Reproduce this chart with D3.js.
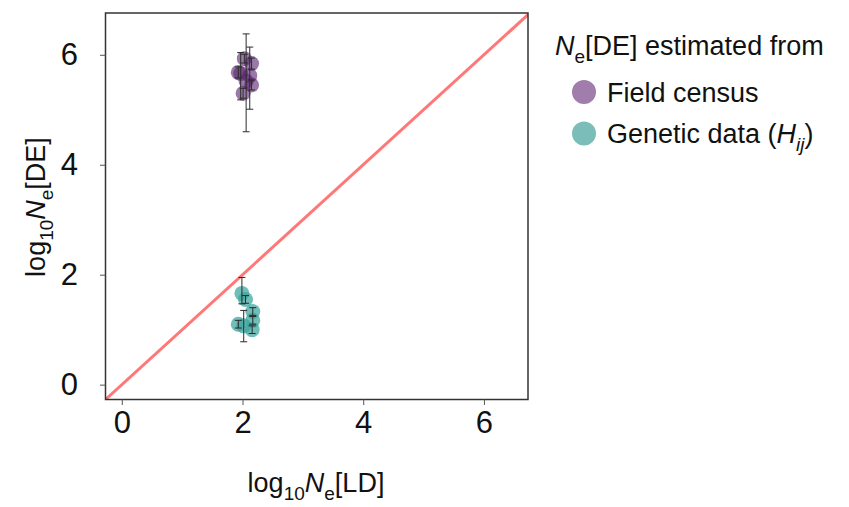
<!DOCTYPE html>
<html>
<head>
<meta charset="utf-8">
<script src="https://cdn.jsdelivr.net/npm/d3@7"></script>
<style>
  html, body { margin: 0; padding: 0; background: #fff; }
  svg { display: block; font-family: "Liberation Sans", Arial, sans-serif; }
</style>
</head>
<body>
<svg id="chart" width="849" height="507"></svg>
<script>
// Ne estimates on a log10 scale: linkage-disequilibrium (LD) vs demographic (DE)
const fieldLD = [1.93, 2.03, 2.06, 2.15, 2.12, 2.15, 2.01, 1.97];
const fieldDE = [5.68, 5.93, 5.52, 5.84, 5.62, 5.45, 5.30, 5.66];
const fieldLo = [5.58, 5.85, 4.60, 5.74, 5.01, 5.36, 5.21, 5.18];
const fieldHi = [5.78, 6.01, 6.38, 5.94, 6.14, 5.54, 5.39, 6.04];

const geneticLD = [1.99, 2.05, 2.17, 2.17, 1.93, 2.02, 2.16];
const geneticDE = [1.66, 1.55, 1.33, 1.17, 1.10, 1.07, 1.00];
const geneticLo = [1.47, 1.48, 1.26, 1.10, 1.03, 0.78, 0.93];
const geneticHi = [1.95, 1.62, 1.40, 1.24, 1.17, 1.35, 1.07];

const tickValues = [0, 2, 4, 6];
const xDomain = [-0.27, 6.73];
const yDomain = [-0.27, 6.76];

const svg = d3.select("#chart");
const plot = { left: 105.5, right: 528, top: 13, bottom: 399.5 };

const x = d3.scaleLinear().domain(xDomain).range([plot.left, plot.right]);
const y = d3.scaleLinear().domain(yDomain).range([plot.bottom, plot.top]);

svg.append("defs").append("clipPath").attr("id", "plotClip")
  .append("rect")
  .attr("x", plot.left).attr("y", plot.top)
  .attr("width", plot.right - plot.left).attr("height", plot.bottom - plot.top);

// 1:1 reference line
const g = svg.append("g").attr("clip-path", "url(#plotClip)");
g.append("line")
  .attr("x1", x(-1)).attr("y1", y(-1))
  .attr("x2", x(8)).attr("y2", y(8))
  .attr("stroke", "#ff7878").attr("stroke-width", 3);

function series(ld, de, lo, hi, fill, opacity) {
  const rows = ld.map((v, i) => ({ x: v, y: de[i], lo: lo[i], hi: hi[i] }));
  const grp = g.append("g");
  grp.selectAll("circle").data(rows).join("circle")
    .attr("cx", d => x(d.x)).attr("cy", d => y(d.y)).attr("r", 7.5)
    .attr("fill", fill).attr("fill-opacity", opacity);
  const eb = grp.selectAll("g.eb").data(rows).join("g").attr("class", "eb")
    .attr("stroke", "#2b2b2b").attr("stroke-width", 1).attr("fill", "none");
  eb.append("line")
    .attr("x1", d => x(d.x)).attr("x2", d => x(d.x))
    .attr("y1", d => y(d.lo)).attr("y2", d => y(d.hi));
  eb.append("line")
    .attr("x1", d => x(d.x) - 3.5).attr("x2", d => x(d.x) + 3.5)
    .attr("y1", d => y(d.lo)).attr("y2", d => y(d.lo));
  eb.append("line")
    .attr("x1", d => x(d.x) - 3.5).attr("x2", d => x(d.x) + 3.5)
    .attr("y1", d => y(d.hi)).attr("y2", d => y(d.hi));
}
series(fieldLD, fieldDE, fieldLo, fieldHi, "#5a2870", 0.62);
series(geneticLD, geneticDE, geneticLo, geneticHi, "#3aa39c", 0.72);

// frame
svg.append("rect")
  .attr("x", plot.left).attr("y", plot.top)
  .attr("width", plot.right - plot.left).attr("height", plot.bottom - plot.top)
  .attr("fill", "none").attr("stroke", "#333").attr("stroke-width", 1.5);

// axes
const fmt = d3.format("d");
const xAxis = svg.append("g").attr("transform", `translate(0,${plot.bottom})`)
  .call(d3.axisBottom(x).tickValues(tickValues).tickFormat(fmt).tickSize(5.5).tickPadding(6));
const yAxis = svg.append("g").attr("transform", `translate(${plot.left},0)`)
  .call(d3.axisLeft(y).tickValues(tickValues).tickFormat(fmt).tickSize(5.5).tickPadding(22));
[xAxis, yAxis].forEach(a => {
  a.select(".domain").remove();
  a.selectAll(".tick line").attr("stroke", "#555").attr("stroke-width", 1);
  a.selectAll(".tick text").attr("font-size", 31).attr("fill", "#111")
    .attr("font-family", "'Liberation Sans', Arial, sans-serif");
});

// rich text helper: parts = [text, {sub|italic}]
function rich(sel, parts, size) {
  const subSize = Math.round(size * 0.72);
  let shifted = false;
  parts.forEach(p => {
    const t = sel.append("tspan").text(p.t);
    if (p.i) t.attr("font-style", "italic");
    if (p.sub) {
      t.attr("font-size", subSize);
      if (!shifted) { t.attr("dy", size * 0.28); shifted = true; }
    } else if (shifted) {
      t.attr("dy", -size * 0.28); shifted = false;
    }
  });
}

const titleSize = 27;
const xt = svg.append("text").attr("x", 316).attr("y", 492)
  .attr("text-anchor", "middle").attr("font-size", titleSize).attr("fill", "#111");
rich(xt, [{ t: "log" }, { t: "10", sub: true }, { t: "N", i: true }, { t: "e", sub: true }, { t: "[LD]" }], titleSize);

const yt = svg.append("text").attr("transform", "translate(45,207) rotate(-90)")
  .attr("text-anchor", "middle").attr("font-size", titleSize).attr("fill", "#111");
rich(yt, [{ t: "log" }, { t: "10", sub: true }, { t: "N", i: true }, { t: "e", sub: true }, { t: "[DE]" }], titleSize);

// legend
const legendSize = 27;
const lt = svg.append("text").attr("x", 555).attr("y", 55)
  .attr("font-size", legendSize).attr("fill", "#111");
rich(lt, [{ t: "N", i: true }, { t: "e", sub: true }, { t: "[DE] estimated from" }], legendSize);

const legendItems = [
  { color: "#a07daa", label: [{ t: "Field census" }] },
  { color: "#7bbdb8", label: [{ t: "Genetic data (" }, { t: "H", i: true }, { t: "ij", i: true, sub: true }, { t: ")" }] }
];
legendItems.forEach((d, i) => {
  const cy = 92 + i * 41.5;
  svg.append("circle").attr("cx", 584).attr("cy", cy).attr("r", 12).attr("fill", d.color);
  const tx = svg.append("text").attr("x", 607).attr("y", cy + 9.5)
    .attr("font-size", legendSize).attr("fill", "#111");
  rich(tx, d.label, legendSize);
});
</script>
</body>
</html>
